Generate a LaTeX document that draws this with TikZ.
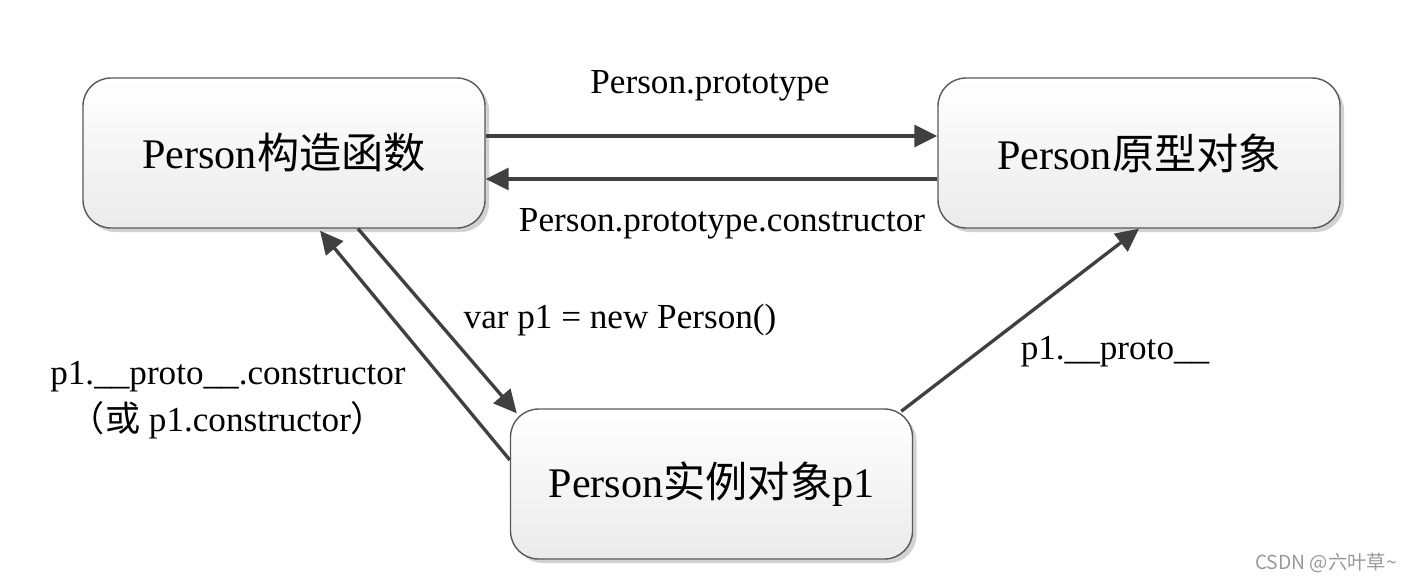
\documentclass[tikz,border=0pt]{standalone}
\usepackage{fontspec}
\setmainfont{Liberation Serif}
\newfontfamily\cjk{Noto Sans CJK SC}
\usetikzlibrary{positioning}
\usetikzlibrary{arrows.meta}
\usetikzlibrary{shadows}

\begin{document}
\begin{tikzpicture}[
  objbox/.style={draw=black!65, line width=0.4pt, rounded corners=0.28cm,
    minimum width=4.02cm, minimum height=1.5cm, top color=white, bottom color=black!8,
    drop shadow={shadow xshift=0.04cm, shadow yshift=-0.04cm, fill=black!25, opacity=0.7},
    font=\fontsize{12}{14}\selectfont},
  link/.style={draw=black!75, line width=0.95pt, -{Triangle[length=2.3mm,width=2.2mm]}},
  lbl/.style={font=\fontsize{10}{12}\selectfont}
]
\useasboundingbox (0,0) rectangle (14.12,5.82);

% the three objects
\node[objbox] (ctor) at (2.84,4.29) {Person{\cjk 构造函数}};
\node[objbox] (proto) at (11.39,4.29) {Person{\cjk 原型对象}};
\node[objbox] (inst) at (7.115,0.98) {Person{\cjk 实例对象}p1};

% links
\draw[link] ([yshift=0.17cm]ctor.east) -- ([yshift=0.17cm]proto.west);
\draw[link] ([yshift=-0.26cm]proto.west) -- ([yshift=-0.26cm]ctor.east);
\draw[link] ([xshift=0.74cm]ctor.south) -- ([shift={(0.07,-0.05)}]inst.north west);
\draw[link] ([yshift=0.24cm]inst.west) -- ([shift={(0.36,-0.02)}]ctor.south);
\draw[link] ([shift={(-0.12,-0.03)}]inst.north east) -- (proto.south);

\node[lbl] (ptype) at (7.10,4.96) {Person.prototype};
\node[lbl] (pcons) at (7.22,3.58) {Person.prototype.constructor};
\node[lbl] (newp) at (6.20,2.62) {var p1 = new Person()};
\node[lbl] (pcons1) at (2.28,2.05) {p1.\_\_proto\_\_.constructor};
\node[lbl] (pcons2) at (2.28,1.62) {{\cjk （或}~p1.constructor{\cjk ）}};
\node[lbl] (pproto) at (11.15,2.30) {p1.\_\_proto\_\_};

\node[font=\cjk\fontsize{5.5}{7}\selectfont, text=black!40] (mark) at (13.26,0.19) {CSDN @六叶草\textasciitilde};

\end{tikzpicture}
\end{document}
